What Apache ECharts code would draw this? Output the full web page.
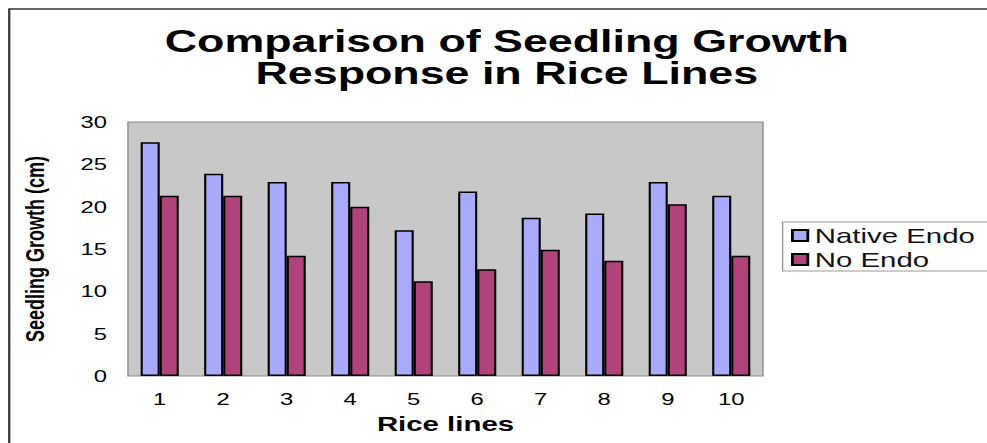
<!DOCTYPE html>
<html>
<head>
<meta charset="utf-8">
<script src="https://cdn.jsdelivr.net/npm/echarts@6/dist/echarts.min.js"></script>
<style>
  html, body { margin: 0; padding: 0; background: #fff; overflow: hidden; }
  #wrap { width: 987px; height: 443px; overflow: hidden; position: relative; }
  #chart { width: 760px; height: 443px; transform: scaleX(1.4); transform-origin: 0 0; }
</style>
</head>
<body>
<div id="wrap"><div id="chart"></div></div>
<script>
const categories = ['1', '2', '3', '4', '5', '6', '7', '8', '9', '10'];
const nativeEndo = [27.6, 23.9, 22.9, 22.9, 17.2, 21.8, 18.7, 19.2, 22.9, 21.3];
const noEndo = [21.3, 21.3, 14.2, 20.0, 11.2, 12.6, 14.9, 13.6, 20.3, 14.2];
const yTicks = { min: 0, max: 30, interval: 5 };

const FONT = '"Liberation Sans", Arial, sans-serif';
const chart = echarts.init(document.getElementById('chart'), null, { renderer: 'svg' });

chart.setOption({
  backgroundColor: '#ffffff',
  animation: false,
  title: {
    text: 'Comparison of Seedling Growth\nResponse in Rice Lines',
    left: 357,
    top: 20,
    textAlign: 'center',
    textStyle: {
      fontFamily: FONT,
      fontWeight: 'bold',
      fontSize: 32,
      lineHeight: 32,
      color: '#000'
    }
  },
  graphic: [{
    type: 'rect',
    silent: true,
    shape: { x: 6.6, y: 9, width: 900, height: 600 },
    style: { fill: 'none', stroke: '#333', lineWidth: 1.6 }
  }],
  legend: {
    orient: 'vertical',
    left: 559,
    top: 222,
    padding: [3, 60, 1, 6],
    itemGap: 3,
    itemWidth: 11,
    itemHeight: 11,
    backgroundColor: '#fff',
    borderColor: '#999',
    borderWidth: 1,
    borderRadius: 0,
    icon: 'rect',
    textStyle: { fontFamily: FONT, fontSize: 21, color: '#111' },
    data: ['Native Endo', 'No Endo']
  },
  grid: {
    left: 91.4,
    right: 215,
    top: 122,
    bottom: 67,
    show: true,
    backgroundColor: '#c8c8c8',
    borderColor: '#8c8c8c',
    borderWidth: 1,
    containLabel: false
  },
  xAxis: {
    type: 'category',
    data: categories,
    name: 'Rice lines',
    nameLocation: 'middle',
    nameGap: 37,
    nameTextStyle: { fontFamily: FONT, fontWeight: 'bold', fontSize: 21, color: '#000' },
    axisLine: { show: false },
    axisTick: { show: false },
    axisLabel: { fontFamily: FONT, fontSize: 17, color: '#000', margin: 14 },
    splitLine: { show: false }
  },
  yAxis: {
    type: 'value',
    min: yTicks.min,
    max: yTicks.max,
    interval: yTicks.interval,
    name: 'Seedling Growth (cm)',
    nameLocation: 'middle',
    nameGap: 57,
    nameRotate: 90,
    nameTextStyle: { fontFamily: FONT, fontWeight: 'bold', fontSize: 18, color: '#000' },
    axisLine: { show: false },
    axisTick: { show: false },
    axisLabel: { fontFamily: FONT, fontSize: 17, color: '#000', margin: 15 },
    splitLine: { show: false }
  },
  series: [
    {
      name: 'Native Endo',
      type: 'bar',
      data: nativeEndo,
      barGap: '0%',
      barCategoryGap: '40%',
      itemStyle: { color: '#a8aafc', borderColor: '#000', borderWidth: 1.5 }
    },
    {
      name: 'No Endo',
      type: 'bar',
      data: noEndo,
      barGap: '0%',
      barCategoryGap: '40%',
      itemStyle: { color: '#b0437a', borderColor: '#000', borderWidth: 1.5 }
    }
  ]
});
</script>
</body>
</html>
